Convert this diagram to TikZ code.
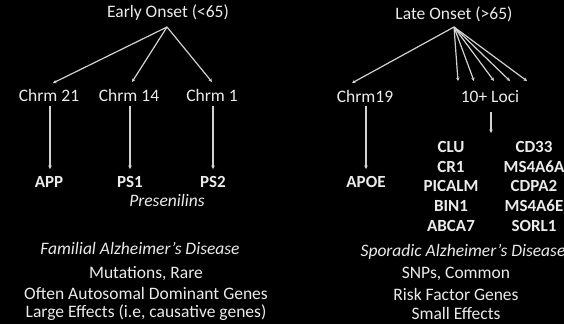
\documentclass[tikz,border=0pt]{standalone}
\usepackage{fontspec}
\setmainfont{Carlito}
\usetikzlibrary{arrows.meta}
\definecolor{txt}{RGB}{235,235,235}
\definecolor{ln}{RGB}{210,210,210}
\begin{document}
\begin{tikzpicture}[x=1pt,y=-1pt,
  lbl/.style={text=txt,font=\fontsize{17.5}{19}\selectfont,inner sep=0pt,anchor=center},
  gene/.style={lbl,font=\fontsize{17}{19}\selectfont\bfseries},
  ital/.style={lbl,font=\fontsize{17.5}{19}\selectfont\itshape},
  conn/.style={draw=ln,line width=1.2pt,-{Stealth[length=3.5pt,width=3.5pt]}}]
\fill[black] (0,0) rectangle (564,324);
\useasboundingbox (0,0) rectangle (564,324);
% left tree
\node[lbl] (early) at (168,13) {Early Onset (<65)};
\coordinate (ea) at (167,27);
\coordinate (e21) at (53,83);
\coordinate (e14) at (132,82);
\coordinate (e1) at (212,82);
\draw[conn] (ea) -- (e21);
\draw[conn] (ea) -- (e14);
\draw[conn] (ea) -- (e1);
\node[lbl] (c21) at (49,95) {Chrm 21};
\node[lbl] (c14) at (129,95) {Chrm 14};
\node[lbl] (c1) at (212,95) {Chrm 1};
\node[gene] (app) at (49,182) {APP};
\node[gene] (ps1) at (130,182) {PS1};
\node[gene] (ps2) at (213,182) {PS2};
\coordinate (t21) at (50,106); \coordinate (b21) at (50,169);
\coordinate (t14) at (130,106); \coordinate (b14) at (130,169);
\coordinate (t1) at (213,106); \coordinate (b1) at (213,169);
\draw[conn] (t21) -- (b21);
\draw[conn] (t14) -- (b14);
\draw[conn] (t1) -- (b1);
\node[ital] (pres) at (167,200) {Presenilins};
\node[ital] (fam) at (140,248) {Familial Alzheimer’s Disease};
\node[lbl] (l1) at (146,274) {Mutations, Rare};
\node[lbl] (l2) at (146,293) {Often Autosomal Dominant Genes};
\node[lbl] (l3) at (146,313) {Large Effects (i.e, causative genes)};
% right tree
\node[lbl] (late) at (454,14) {Late Onset (>65)};
\coordinate (la) at (454,27);
\coordinate (r19) at (352,83);
\coordinate (k1) at (458,81);
\coordinate (k2) at (474,81);
\coordinate (k3) at (494,81);
\coordinate (k4) at (510,81);
\coordinate (k5) at (527,81);
\draw[conn] (la) -- (r19);
\foreach \k in {k1,k2,k3,k4,k5} \draw[conn] (la) -- (\k);
\node[lbl] (c19) at (365,96) {Chrm19};
\node[lbl] (loci) at (490,97) {10+ Loci};
\node[gene] (apoe) at (366,182) {APOE};
\coordinate (t19) at (366,106); \coordinate (b19) at (366,169);
\draw[conn] (t19) -- (b19);
\coordinate (tl) at (491,112); \coordinate (bl) at (491,133);
\draw[conn] (tl) -- (bl);
\node[gene] (g1) at (451,147) {CLU};
\node[gene] (g2) at (451,167) {CR1};
\node[gene] (g3) at (451,186) {PICALM};
\node[gene] (g4) at (451,206) {BIN1};
\node[gene] (g5) at (451,226) {ABCA7};
\node[gene] (h1) at (534,147) {CD33};
\node[gene] (h2) at (534,167) {MS4A6A};
\node[gene] (h3) at (534,186) {CDPA2};
\node[gene] (h4) at (534,206) {MS4A6E};
\node[gene] (h5) at (534,226) {SORL1};
\node[ital] (spor) at (463,252) {Sporadic Alzheimer’s Disease};
\node[lbl] (r1) at (456,274) {SNPs, Common};
\node[lbl] (r2) at (456,294) {Risk Factor Genes};
\node[lbl] (r3) at (456,313) {Small Effects};
\end{tikzpicture}
\end{document}
